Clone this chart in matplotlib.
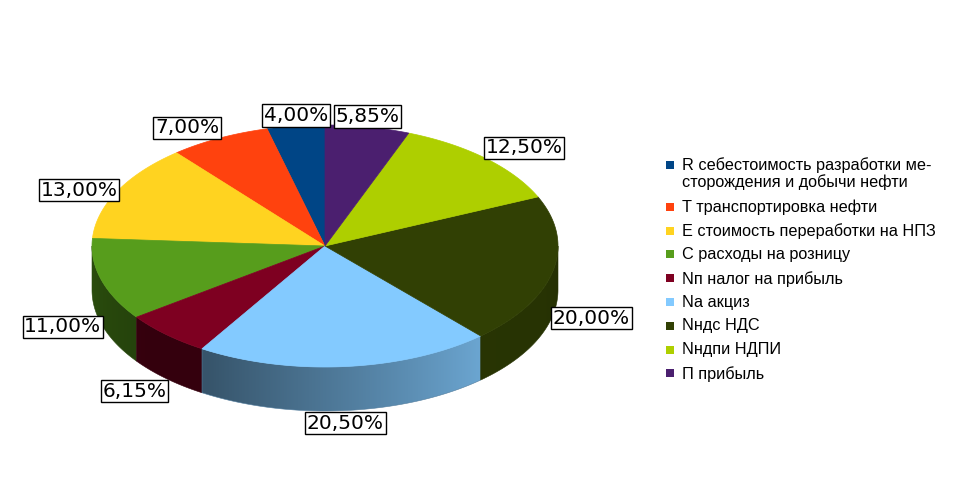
import numpy as np
import matplotlib
matplotlib.use('Agg')
import matplotlib.pyplot as plt
from matplotlib.patches import Polygon, Rectangle
from matplotlib.colors import to_rgb

# ---- data ----
labels = [
    'R себестоимость разработки ме-\nсторождения и добычи нефти',
    'T транспортировка нефти',
    'E стоимость переработки на НПЗ',
    'C расходы на розницу',
    'Nп налог на прибыль',
    'Na акциз',
    'Nндс НДС',
    'Nндпи НДПИ',
    'П прибыль',
]
values = [4.00, 7.00, 13.00, 11.00, 6.15, 20.50, 20.00, 12.50, 5.85]
value_labels = ['4,00%', '7,00%', '13,00%', '11,00%', '6,15%',
                '20,50%', '20,00%', '12,50%', '5,85%']
colors = ['#004586', '#ff420e', '#ffd320', '#579d1c', '#7e0021',
          '#83caff', '#314004', '#aecf00', '#4b1f6f']

# ---- figure ----
fig = plt.figure(figsize=(9.56, 4.95), dpi=100)
ax = fig.add_axes([0, 0, 1, 1])
ax.set_xlim(0, 956)
ax.set_ylim(495, 0)
ax.axis('off')

cx, cy, a, b, depth = 325, 246, 233, 121, 44
total = float(sum(values))
fr = np.array(values) / total * 360.0
starts = 90 + np.concatenate([[0], np.cumsum(fr)[:-1]])
ends = starts + fr


def pt(th, dz=0.0):
    t = np.radians(th)
    return cx + a * np.cos(t), cy - b * np.sin(t) + dz


# side shading factor vs angle (front half 180..360)
sh_ang = [180, 220, 240, 312, 340, 360]
sh_val = [0.50, 0.42, 0.42, 0.82, 0.80, 0.75]

# sides (gradient image clipped to each side polygon)
for s, e, c in zip(starts, ends, colors):
    lo, hi = max(s, 180), min(e, 360)
    if hi <= lo:
        continue
    th = np.linspace(lo, hi, 200)
    xt, yt = pt(th)
    xb, yb = pt(th[::-1], depth)
    verts = list(zip(xt, yt)) + list(zip(xb, yb))
    poly = Polygon(verts, closed=True, fc='none', ec='none')
    ax.add_patch(poly)
    x0, x1 = xt.min() - 1, xt.max() + 1
    y0, y1 = min(yt.min(), yb.min()) - 1, max(yt.max(), yb.max()) + 1
    ncol = 300
    xs = np.linspace(x0, x1, ncol)
    u = np.clip((xs - cx) / a, -1, 1)
    ang = 360 - np.degrees(np.arccos(u))
    f = np.interp(ang, sh_ang, sh_val)
    rgb = np.array(to_rgb(c))
    img = (f[:, None] * rgb[None, :])[None, :, :]
    img = np.repeat(img, 2, axis=0)
    im = ax.imshow(img, extent=(x0, x1, y1, y0), aspect='auto',
                   interpolation='bilinear', zorder=1)
    im.set_clip_path(poly)
    # thin edge to avoid gaps
    ax.add_patch(Polygon(verts, closed=True, fc='none',
                         ec=tuple(rgb * np.interp((lo + hi) / 2, sh_ang, sh_val)),
                         lw=0.4, zorder=1))

# tops
for s, e, c in zip(starts, ends, colors):
    th = np.linspace(s, e, max(3, int((e - s) / 0.5)))
    xs, ys = pt(th)
    verts = [(cx, cy)] + list(zip(xs, ys))
    ax.add_patch(Polygon(verts, closed=True, fc=c, ec=c, lw=0.5, zorder=2))

# data labels
for s, e, txt in zip(starts, ends, value_labels):
    mid = (s + e) / 2
    t = np.radians(mid)
    if np.sin(t) >= 0:
        x, y = pt(mid)
        y -= 1
    else:
        x, y = pt(mid, depth + 3)
    phi = np.arctan2(b * np.sin(t), a * np.cos(t))
    cp, sp = np.cos(phi), np.sin(phi)
    ha = 'left' if cp > 0.383 else ('right' if cp < -0.383 else 'center')
    va = 'bottom' if sp > 0.383 else ('top' if sp < -0.383 else 'center')
    ax.text(x, y, txt, ha=ha, va=va, fontsize=14.5, family='DejaVu Sans',
            color='black', zorder=5,
            bbox=dict(boxstyle='square,pad=0.08', fc='white', ec='black', lw=1))

# legend
ly = 165
for lab, c in zip(labels, colors):
    ax.add_patch(Rectangle((666, ly - 4), 8, 8, fc=c, ec='none'))
    ax.text(682, ly - 7.5, lab, ha='left', va='top', fontsize=11.7,
            family='Liberation Sans', color='black', linespacing=1.05)
    ly += 23.8 + 18 * lab.count('\n')

fig.savefig('out.png', dpi=100)
